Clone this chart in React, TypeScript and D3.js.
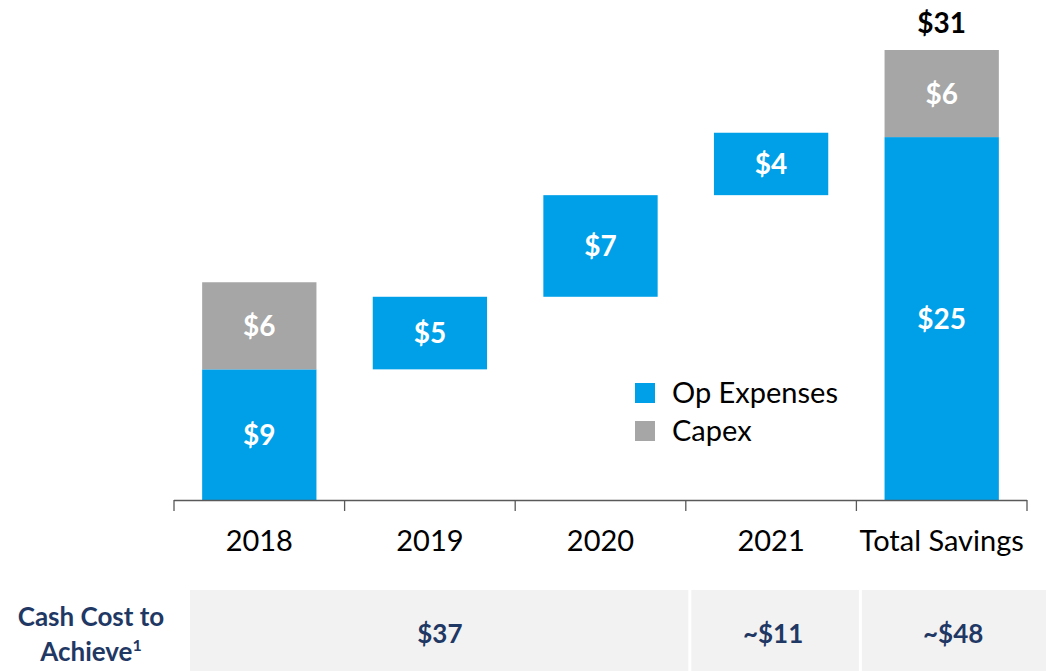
import * as d3 from "d3";

const categories = ["2018", "2019", "2020", "2021", "Total Savings"];
const opExpenses = [9, 5, 7, 4.3, 25];
const capex = [6, 0, 0, 0, 6];
const totalLabel = "$31";
const legendItems = ["Op Expenses", "Capex"];
const costLabel = ["Cash Cost to", "Achieve"];
const costCells = [
  { text: "$37", span: [0, 3] },
  { text: "~$11", span: [3, 4] },
  { text: "~$48", span: [4, 5] },
];

const W = 1046;
const H = 671;
const BLUE = "#00A0E9";
const GREY = "#A6A6A6";
const NAVY = "#1F3864";
const FONT = "Lato, 'Open Sans', sans-serif";

export default function App() {
  const x = d3.scaleBand<string>().domain(categories).range([174, 1027]).paddingInner(0).paddingOuter(0);
  const y = d3.scaleLinear().domain([0, 31]).range([500, 50]);
  const barW = x.bandwidth() * 0.67;

  // waterfall base: 2018 starts at 0, then each year stacks on the previous op total
  const bases: number[] = [];
  let run = 0;
  categories.forEach((c, i) => {
    if (i === 0 || i === categories.length - 1) {
      bases.push(0);
      if (i === 0) run = opExpenses[0];
    } else {
      bases.push(run);
      run += opExpenses[i];
    }
  });

  const ticks = [...categories.map((c) => x(c) as number), 1027];
  const cellX = (i: number) => (i < categories.length ? (x(categories[i]) as number) : W);
  const tableX0 = 190;

  return (
    <svg width={W} height={H} style={{ position: "absolute", left: 0, top: 0 }} fontFamily={FONT}>
      {/* bars */}
      {categories.map((c, i) => {
        const cx = (x(c) as number) + x.bandwidth() / 2;
        const b = bases[i];
        const op = opExpenses[i];
        const cp = capex[i];
        return (
          <g key={c}>
            <rect x={cx - barW / 2} y={y(b + op)} width={barW} height={y(b) - y(b + op)} fill={BLUE} />
            <text x={cx} y={(y(b) + y(b + op)) / 2 + 10} textAnchor="middle" fill="#fff" fontWeight="bold" fontSize={28}>
              ${Math.round(op)}
            </text>
            {cp > 0 && (
              <>
                <rect x={cx - barW / 2} y={y(b + op + cp)} width={barW} height={y(b + op) - y(b + op + cp)} fill={GREY} />
                <text x={cx} y={(y(b + op) + y(b + op + cp)) / 2 + 10} textAnchor="middle" fill="#fff" fontWeight="bold" fontSize={28}>
                  ${cp}
                </text>
              </>
            )}
          </g>
        );
      })}
      <text
        x={(x("Total Savings") as number) + x.bandwidth() / 2}
        y={y(31) - 17}
        textAnchor="middle"
        fontWeight="bold"
        fontSize={28}
        fill="#000"
      >
        {totalLabel}
      </text>

      {/* axis */}
      <line x1={174} x2={1027} y1={500.5} y2={500.5} stroke="#595959" strokeWidth={1.3} />
      {ticks.map((t, i) => (
        <line key={i} x1={t} x2={t} y1={500} y2={511} stroke="#595959" strokeWidth={1.3} />
      ))}
      {categories.map((c) => (
        <text key={c} x={(x(c) as number) + x.bandwidth() / 2} y={551} textAnchor="middle" fontSize={29} fill="#000">
          {c}
        </text>
      ))}

      {/* legend */}
      {legendItems.map((l, i) => (
        <g key={l} transform={`translate(635,${383 + i * 38})`}>
          <rect width={20} height={20} fill={i === 0 ? BLUE : GREY} />
          <text x={37} y={20} fontSize={29} fill="#000">
            {l}
          </text>
        </g>
      ))}

      {/* cash cost table */}
      <rect x={tableX0} y={590} width={W - tableX0} height={H - 590} fill="#F2F2F2" />
      {costCells.map((cell, i) => {
        const x0 = i === 0 ? tableX0 : cellX(cell.span[0]);
        const x1 = cellX(cell.span[1]);
        return (
          <g key={cell.text}>
            {i > 0 && <line x1={x0 + 4} x2={x0 + 4} y1={590} y2={H} stroke="#fff" strokeWidth={3} />}
            <text x={(x0 + x1) / 2 + 2} y={643} textAnchor="middle" fontWeight="bold" fontSize={26} fill={NAVY}>
              {cell.text}
            </text>
          </g>
        );
      })}
      <text x={91} y={626} textAnchor="middle" fontWeight="bold" fontSize={26} fill={NAVY}>
        {costLabel[0]}
      </text>
      <text x={91} y={661} textAnchor="middle" fontWeight="bold" fontSize={26} fill={NAVY}>
        {costLabel[1]}
        <tspan dy={-10} fontSize={16}>1</tspan>
      </text>
    </svg>
  );
}
